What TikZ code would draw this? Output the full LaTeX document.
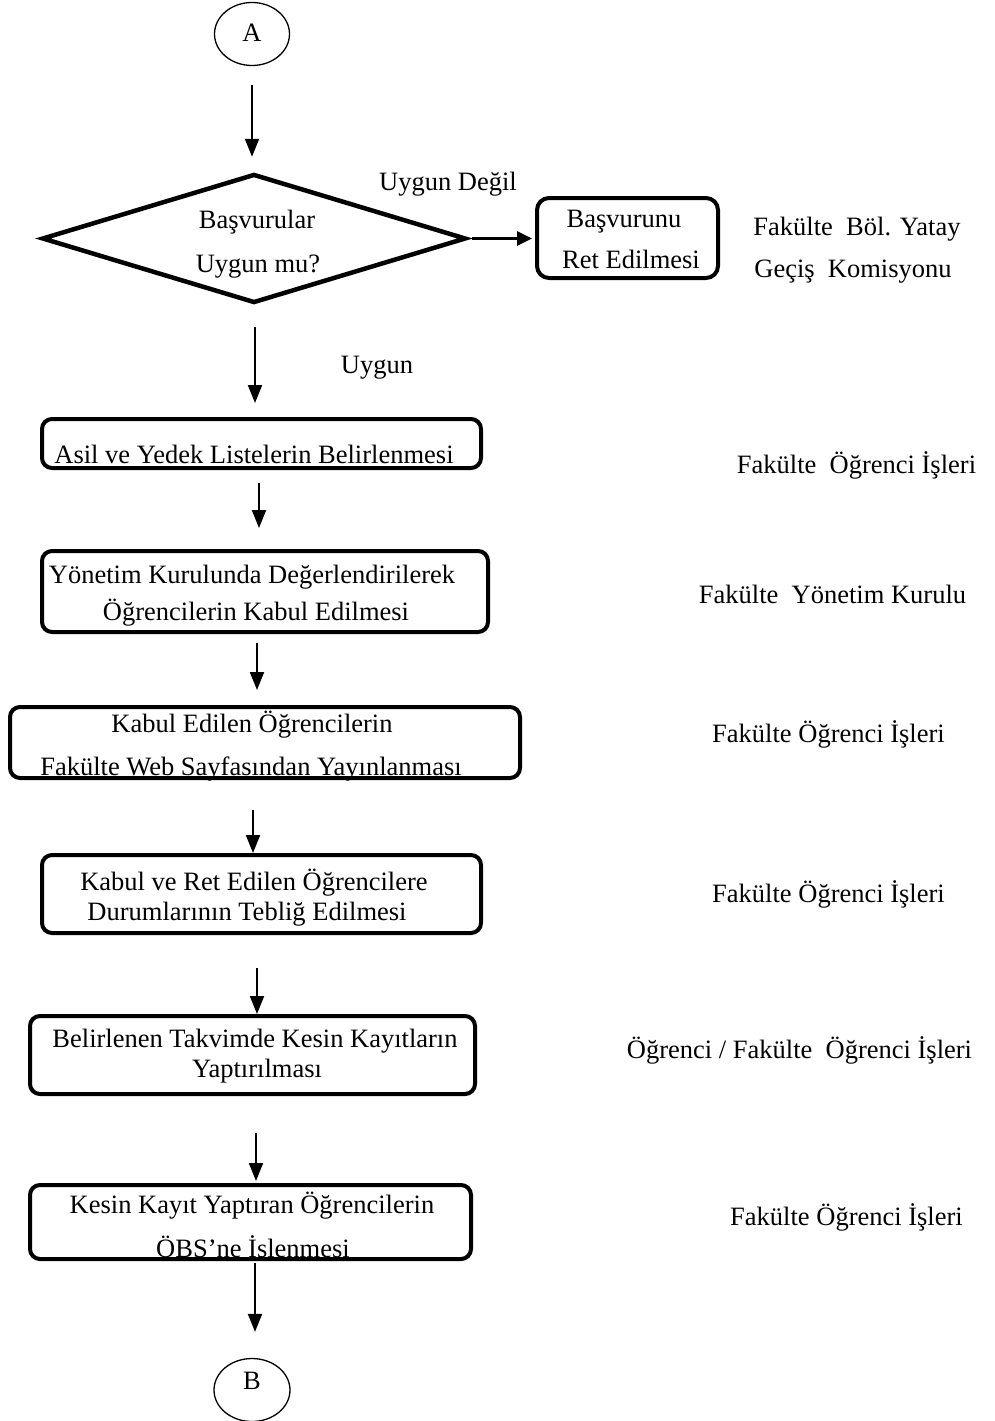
\documentclass[tikz,border=0pt]{standalone}
\usepackage{fontspec}
\setmainfont{Liberation Serif}
\usetikzlibrary{shapes.geometric,arrows.meta}
\begin{document}
\begin{tikzpicture}[x=1pt,y=-1pt,
  every node/.style={font=\fontsize{26.5}{30}\selectfont, inner sep=0pt},
  procbox/.style={draw, line width=4pt, rounded corners=10pt, rectangle},
  connector/.style={draw, ellipse, line width=1.3pt},
  arr/.style={line width=2pt, -{Triangle[length=18pt,width=14pt]}},
  arrside/.style={line width=3pt, -{Triangle[length=15pt,width=14pt]}},
  lbl/.style={anchor=base}]
\useasboundingbox (0,0) rectangle (994,1421);

% shapes
\node[connector, minimum width=75pt, minimum height=63pt] (A) at (252,34) {};
\node[diamond, draw, line width=4.5pt, minimum width=424pt, minimum height=129pt] (dia) at (254,238.5) {};
\node[procbox, rounded corners=12pt, minimum width=181pt, minimum height=80pt] (ret) at (627.5,238) {};
\node[procbox, minimum width=439pt, minimum height=49pt] (asil) at (261.5,443.5) {};
\node[procbox, minimum width=446pt, minimum height=81pt] (yon) at (265,591.5) {};
\node[procbox, minimum width=510pt, minimum height=71pt] (kabul) at (265,742.5) {};
\node[procbox, minimum width=439pt, minimum height=78pt] (kret) at (261.5,894) {};
\node[procbox, minimum width=445pt, minimum height=78pt] (bel) at (252.5,1055) {};
\node[connector, minimum width=76pt, minimum height=63pt] (B) at (252,1390) {};

% texts
\node[lbl] (tA) at (252,42) {A};
\node[lbl] (tB) at (252,1389) {B};
\node[lbl] (tdeg) at (448,190) {Uygun Değil};
\node[lbl] (tdia1) at (257,228) {Başvurular};
\node[lbl] (tdia2) at (258,272) {Uygun mu?};
\node[lbl] (tret1) at (624,227) {Başvurunu};
\node[lbl] (tret2) at (631,268) {Ret Edilmesi};
\node[lbl] (tkom1) at (857,235) {Fakülte\ \ Böl. Yatay};
\node[lbl] (tkom2) at (853,277) {Geçiş\ \ Komisyonu};
\node[lbl] (tuyg) at (377,373) {Uygun};
\node[lbl] (tasil) at (254,463) {Asil ve Yedek Listelerin Belirlenmesi};
\node[lbl] (tyon1) at (252,583) {Yönetim Kurulunda Değerlendirilerek};
\node[lbl] (tyon2) at (256,620) {Öğrencilerin Kabul Edilmesi};
\node[lbl] (tkab1) at (252,732) {Kabul Edilen Öğrencilerin};
\node[lbl] (tkab2) at (251,775) {Fakülte Web Sayfasından Yayınlanması};
\node[lbl] (tkr1) at (254,890) {Kabul ve Ret Edilen Öğrencilere};
\node[lbl] (tkr2) at (247,920) {Durumlarının Tebliğ Edilmesi};
\node[lbl] (tbel1) at (255,1047) {Belirlenen Takvimde Kesin Kayıtların};
\node[lbl] (tbel2) at (257,1077) {Yaptırılması};
\node[lbl] (tkes1) at (252,1213) {Kesin Kayıt Yaptıran Öğrencilerin};
\begin{scope}
\clip (30,1185) rectangle (471,1259);
\node[lbl] (tkes2) at (253,1257) {ÖBS’ne İşlenmesi};
\end{scope}
\node[procbox, minimum width=441pt, minimum height=74pt] (kes) at (250.5,1222) {};

% right column
\node[lbl] (r1) at (856.5,473) {Fakülte\ \ Öğrenci İşleri};
\node[lbl] (r2) at (832.5,603) {Fakülte\ \ Yönetim Kurulu};
\node[lbl] (r3) at (828.5,742) {Fakülte\ Öğrenci İşleri};
\node[lbl] (r4) at (828.5,902) {Fakülte\ Öğrenci İşleri};
\node[lbl] (r5) at (799.5,1058) {Öğrenci / Fakülte\ \ Öğrenci İşleri};
\node[lbl] (r6) at (846.5,1225) {Fakülte\ Öğrenci İşleri};

% arrow x positions
\coordinate (x1) at (252,0);
\coordinate (x3) at (255,0);
\coordinate (x4) at (259,0);
\coordinate (x5) at (257,0);
\coordinate (x6) at (253,0);
\coordinate (x7) at (257,0);
\coordinate (x8) at (256,0);
\coordinate (x9) at (255,0);

% connectors
\draw[arr, shorten <=19pt, shorten >=15pt] (A.south -| x1) -- (dia.north -| x1);
\draw[arrside, shorten <=4pt, shorten >=3pt] (dia.east) -- (dia.east -| ret.west);
\draw[arr, shorten <=22pt, shorten >=14pt] (dia.south -| x3) -- (asil.north -| x3);
\draw[arr, shorten <=13pt, shorten >=21pt] (asil.south -| x4) -- (yon.north -| x4);
\draw[arr, shorten <=9pt, shorten >=15pt] (yon.south -| x5) -- (kabul.north -| x5);
\draw[arr, shorten <=30pt, shorten >=0pt] (kabul.south -| x6) -- (kret.north -| x6);
\draw[arr, shorten <=33pt, shorten >=0pt] (kret.south -| x7) -- (bel.north -| x7);
\draw[arr, shorten <=37pt, shorten >=2pt] (bel.south -| x8) -- (kes.north -| x8);
\draw[arr, shorten <=2pt, shorten >=26pt] (kes.south -| x9) -- (B.north -| x9);
\end{tikzpicture}
\end{document}
